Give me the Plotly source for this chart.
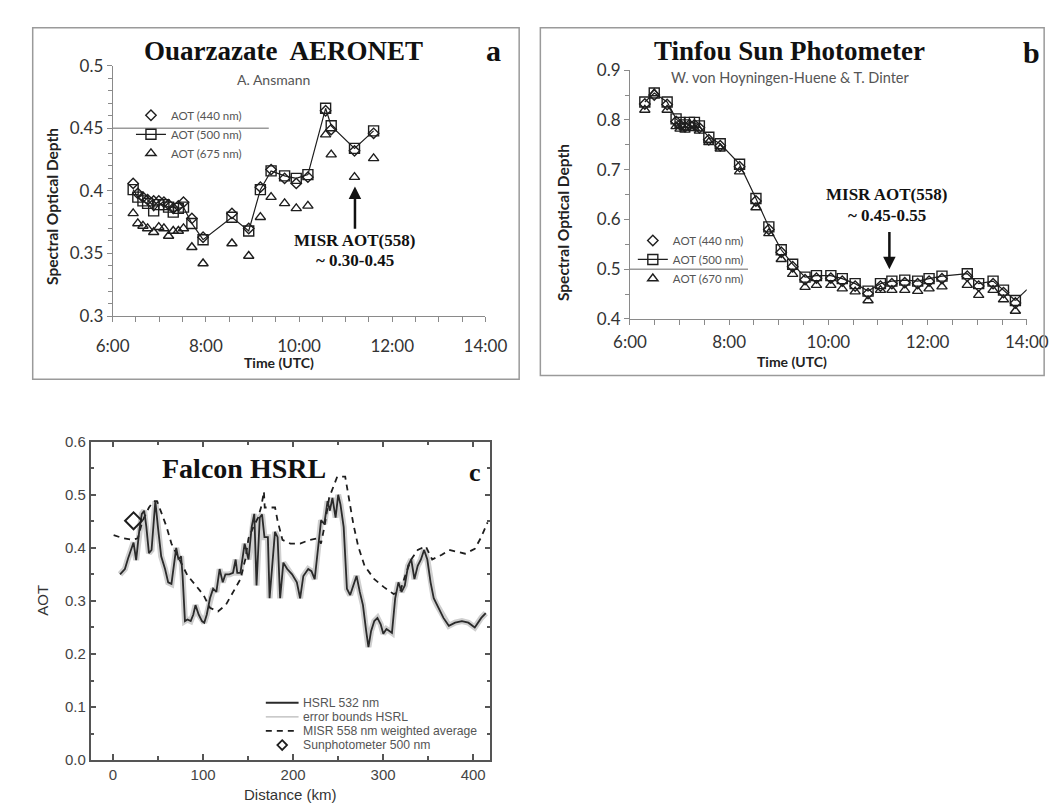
import plotly.graph_objects as go

# ---------------- Panel a : Ouarzazate AERONET ----------------
t_a = [6.44, 6.54, 6.65, 6.75, 6.88, 6.99, 7.10, 7.20, 7.30, 7.41, 7.52, 7.70,
       7.94, 8.56, 8.92, 9.17, 9.40, 9.69, 9.94, 10.19, 10.57, 10.69, 11.19, 11.60]
aot440_a = [0.406, 0.398, 0.395, 0.393, 0.392, 0.392, 0.391, 0.389, 0.386, 0.388, 0.391, 0.378,
            0.363, 0.382, 0.370, 0.403, 0.417, 0.410, 0.406, 0.411, 0.464, 0.449, 0.432, 0.446]
aot500_a = [0.401, 0.395, 0.392, 0.390, 0.384, 0.389, 0.389, 0.387, 0.383, 0.386, 0.387, 0.374,
            0.361, 0.379, 0.368, 0.401, 0.416, 0.412, 0.410, 0.413, 0.466, 0.452, 0.434, 0.448]
aot675_a = [0.382, 0.374, 0.372, 0.370, 0.367, 0.371, 0.370, 0.364, 0.368, 0.368, 0.370, 0.355,
            0.342, 0.358, 0.348, 0.379, 0.395, 0.390, 0.386, 0.388, 0.445, 0.429, 0.411, 0.426]

# ---------------- Panel b : Tinfou Sun Photometer ----------------
t_b = [6.30, 6.49, 6.75, 6.93, 7.01, 7.11, 7.20, 7.30, 7.40, 7.59, 7.82, 8.21, 8.54, 8.80,
       9.05, 9.28, 9.53, 9.76, 10.05, 10.28, 10.54, 10.80, 11.05, 11.28, 11.54, 11.80,
       12.03, 12.29, 12.80, 13.03, 13.32, 13.53, 13.77]
aot440_b = [0.832, 0.850, 0.831, 0.797, 0.790, 0.786, 0.790, 0.790, 0.784, 0.760, 0.748, 0.706,
            0.637, 0.580, 0.534, 0.505, 0.479, 0.482, 0.482, 0.476, 0.466, 0.451, 0.466, 0.471,
            0.473, 0.471, 0.476, 0.481, 0.486, 0.466, 0.471, 0.453, 0.432]
aot500_b = [0.836, 0.854, 0.836, 0.802, 0.795, 0.790, 0.795, 0.795, 0.788, 0.765, 0.752, 0.711,
            0.642, 0.585, 0.539, 0.510, 0.484, 0.487, 0.487, 0.481, 0.471, 0.456, 0.471, 0.476,
            0.478, 0.476, 0.481, 0.486, 0.491, 0.471, 0.476, 0.458, 0.437]
aot670_b = [0.820, 0.853, 0.820, 0.787, 0.782, 0.780, 0.784, 0.783, 0.778, 0.755, 0.742, 0.696,
            0.624, 0.572, 0.520, 0.490, 0.464, 0.468, 0.468, 0.461, 0.455, 0.437, 0.458, 0.458,
            0.458, 0.456, 0.461, 0.465, 0.468, 0.448, 0.458, 0.439, 0.416]
t_b_end = 14.0
aot500_b_end = 0.459

# ---------------- Panel c : Falcon HSRL ----------------
dist_hsrl = [7.8, 13.2, 16.7, 20.3, 22.8, 25.7, 29.2, 32.0, 34.6, 37.0,
             39.9, 42.8, 45.3, 47.0, 49.9, 53.5, 57.8, 61.3, 64.9, 68.4,
             70.2, 72.7, 75.6, 77.3, 79.9, 82.7, 86.3, 89.1, 91.6, 95.2,
             98.8, 101.3, 104.1, 107.7, 111.2, 114.8, 118.4, 121.9, 124.8, 129.1,
             133.3, 136.2, 138.0, 141.5, 146.2, 150.5, 154.0, 156.9, 159.4, 163.0,
             165.5, 168.2, 172.0, 173.9, 177.4, 179.9, 182.8, 185.6, 189.2, 193.5,
             198.9, 204.2, 207.8, 211.4, 216.8, 220.4, 224.0, 227.5, 231.1, 234.7,
             238.3, 240.8, 243.7, 247.2, 250.1, 252.6, 256.2, 259.8, 263.4, 266.9,
             270.5, 274.1, 277.6, 281.2, 283.7, 286.6, 290.2, 293.7, 297.3, 300.2,
             303.7, 307.3, 309.8, 313.4, 317.0, 320.5, 324.1, 327.7, 331.2, 334.8,
             338.4, 342.0, 345.5, 349.1, 352.7, 356.2, 359.8, 363.4, 367.0, 373.0,
             380.0, 387.5, 394.7, 401.8, 409.0, 414.0]
aot_hsrl = [0.350, 0.360, 0.380, 0.400, 0.410, 0.377, 0.433, 0.464, 0.470, 0.440,
            0.390, 0.396, 0.452, 0.488, 0.439, 0.384, 0.360, 0.335, 0.332, 0.378,
            0.400, 0.378, 0.384, 0.347, 0.262, 0.265, 0.262, 0.274, 0.292, 0.274,
            0.262, 0.259, 0.274, 0.305, 0.323, 0.317, 0.360, 0.335, 0.350, 0.350,
            0.353, 0.378, 0.353, 0.353, 0.408, 0.378, 0.439, 0.464, 0.329, 0.457,
            0.463, 0.420, 0.420, 0.305, 0.384, 0.430, 0.420, 0.305, 0.372, 0.360,
            0.350, 0.335, 0.305, 0.347, 0.360, 0.356, 0.341, 0.396, 0.452, 0.445,
            0.488, 0.470, 0.494, 0.457, 0.500, 0.482, 0.439, 0.323, 0.311, 0.329,
            0.347, 0.317, 0.292, 0.243, 0.213, 0.243, 0.262, 0.268, 0.256, 0.238,
            0.247, 0.243, 0.240, 0.305, 0.335, 0.317, 0.329, 0.366, 0.378, 0.341,
            0.366, 0.378, 0.396, 0.378, 0.335, 0.305, 0.292, 0.280, 0.268, 0.253,
            0.259, 0.262, 0.259, 0.250, 0.268, 0.277]
dist_misr = [0.7, 11.4, 22.1, 27.5, 32.8, 39.9, 45.3, 48.9, 54.2, 59.6, 64.9, 72.0, 82.7,
             93.4, 100.5, 107.7, 116.6, 125.5, 134.4, 141.5, 146.9, 150.5, 155.8, 161.1,
             164.7, 167.6, 168.5, 180.0, 182.8, 188.2, 197.0, 207.8, 218.5, 227.5, 231.0,
             234.7, 240.0, 245.4, 249.0, 257.9, 261.5, 266.9, 272.3, 279.4, 290.2, 300.9,
             311.6, 318.7, 325.8, 331.2, 338.4, 347.3, 354.5, 365.2, 373.3, 391.0, 401.8,
             408.9, 416.0]
aot_misr = [0.424, 0.418, 0.415, 0.418, 0.451, 0.476, 0.488, 0.488, 0.464, 0.439, 0.408, 0.384,
            0.348, 0.326, 0.311, 0.287, 0.280, 0.293, 0.320, 0.341, 0.378, 0.418, 0.439, 0.457,
            0.478, 0.506, 0.476, 0.476, 0.451, 0.415, 0.408, 0.408, 0.415, 0.418, 0.408, 0.439,
            0.494, 0.519, 0.534, 0.534, 0.500, 0.445, 0.403, 0.366, 0.341, 0.326, 0.313, 0.317,
            0.354, 0.378, 0.396, 0.403, 0.378, 0.387, 0.396, 0.389, 0.398, 0.420, 0.448]
dist_sunphot = [22.8]
aot_sunphot = [0.451]

time_tickvals = [6, 8, 10, 12, 14]
time_ticktext = ["6:00", "8:00", "10:00", "12:00", "14:00"]
legend_c_labels = ["HSRL 532 nm", "error bounds HSRL",
                   "MISR 558 nm weighted average", "Sunphotometer 500 nm"]

W, H = 1062, 805


def px(x):
    return x / W


def py(y):
    return 1 - y / H


INK = "#1e1e1e"
SANS = "Lato"
SERIF = "Liberation Serif"
ARIAL = "Liberation Sans"

fig = go.Figure()

# ---- panel a traces
fig.add_trace(go.Scatter(x=t_a, y=aot440_a, mode="markers", name="AOT (440 nm)",
                         marker=dict(symbol="diamond-open", size=8, color=INK, line=dict(width=1.4, color=INK)),
                         xaxis="x", yaxis="y", legend="legend"))
fig.add_trace(go.Scatter(x=t_a, y=aot500_a, mode="lines+markers", name="AOT (500 nm)",
                         line=dict(color=INK, width=1.2),
                         marker=dict(symbol="square-open", size=10, color=INK, line=dict(width=1.4, color=INK)),
                         xaxis="x", yaxis="y", legend="legend"))
fig.add_trace(go.Scatter(x=t_a, y=aot675_a, mode="markers", name="AOT (675 nm)",
                         marker=dict(symbol="triangle-up-open", size=9, color=INK, line=dict(width=1.4, color=INK)),
                         xaxis="x", yaxis="y", legend="legend"))

# ---- panel b traces
fig.add_trace(go.Scatter(x=t_b, y=aot440_b, mode="markers", name="AOT (440 nm)",
                         marker=dict(symbol="diamond-open", size=8, color=INK, line=dict(width=1.4, color=INK)),
                         xaxis="x2", yaxis="y2", legend="legend2"))
fig.add_trace(go.Scatter(x=t_b, y=aot500_b, mode="lines+markers", name="AOT (500 nm)",
                         line=dict(color=INK, width=1.2),
                         marker=dict(symbol="square-open", size=10, color=INK, line=dict(width=1.4, color=INK)),
                         xaxis="x2", yaxis="y2", legend="legend2"))
fig.add_trace(go.Scatter(x=[t_b[-1], t_b_end], y=[aot500_b[-1], aot500_b_end], mode="lines",
                         line=dict(color=INK, width=1.2), showlegend=False, hoverinfo="skip",
                         xaxis="x2", yaxis="y2"))
fig.add_trace(go.Scatter(x=t_b, y=aot670_b, mode="markers", name="AOT (670 nm)",
                         marker=dict(symbol="triangle-up-open", size=9, color=INK, line=dict(width=1.4, color=INK)),
                         xaxis="x2", yaxis="y2", legend="legend2"))

# ---- panel c traces
fig.add_trace(go.Scatter(x=dist_hsrl, y=aot_hsrl, mode="lines", line=dict(color="#cfcfcf", width=6),
                         showlegend=False, xaxis="x3", yaxis="y3", hoverinfo="skip"))
fig.add_trace(go.Scatter(x=dist_misr, y=aot_misr, mode="lines",
                         line=dict(color=INK, width=1.8, dash="6px,5px"),
                         showlegend=False, xaxis="x3", yaxis="y3"))
fig.add_trace(go.Scatter(x=dist_hsrl, y=aot_hsrl, mode="lines", line=dict(color="#2a2a2a", width=1.8),
                         showlegend=False, xaxis="x3", yaxis="y3"))
fig.add_trace(go.Scatter(x=dist_sunphot, y=aot_sunphot, mode="markers",
                         marker=dict(symbol="diamond-open", size=13, color=INK, line=dict(width=2, color=INK)),
                         showlegend=False, xaxis="x3", yaxis="y3"))

# ---- axes
tick_ab = dict(family=SANS, size=17, color="#333")
common_ab = dict(showline=True, linecolor="#8a8a8a", linewidth=1, ticks="outside", ticklen=5,
                 tickcolor="#8a8a8a", showgrid=False, zeroline=False, tickfont=tick_ab)

fig.update_layout(
    xaxis=dict(domain=[px(91), px(478)], range=[6, 14], tickvals=time_tickvals, ticktext=time_ticktext,
               anchor="y", ticklabelstandoff=10,
               minor=dict(tick0=6, dtick=0.5, ticks="outside", ticklen=5, tickcolor="#8a8a8a"),
               **common_ab),
    yaxis=dict(domain=[py(305), py(48)], range=[0.3, 0.5], tick0=0.3, dtick=0.05, anchor="x",
               minor=dict(tick0=0.3, dtick=0.01, ticks="outside", ticklen=4, tickcolor="#8a8a8a"),
               **common_ab),
    xaxis2=dict(domain=[px(628), px(1040)], range=[6, 14], tickvals=time_tickvals, ticktext=time_ticktext,
                anchor="y2", ticklabelstandoff=3,
                minor=dict(tick0=6, dtick=0.5, ticks="outside", ticklen=5, tickcolor="#8a8a8a"),
                **common_ab),
    yaxis2=dict(domain=[py(308), py(52.5)], range=[0.4, 0.9], tick0=0.4, dtick=0.1, anchor="x2",
                minor=dict(tick0=0.4, dtick=0.05, ticks="outside", ticklen=4, tickcolor="#8a8a8a"),
                **common_ab),
    xaxis3=dict(domain=[px(68), px(483)], range=[-25, 419], tick0=0, dtick=100, anchor="y3",
                showline=True, mirror="ticks", linecolor="#555", linewidth=1.5, ticks="inside", ticklen=6,
                tickcolor="#555", tickwidth=1.5, showgrid=False, zeroline=False,
                tickfont=dict(family=ARIAL, size=15, color="#444"),
                minor=dict(tick0=0, dtick=50, ticks="inside", ticklen=4, tickcolor="#555")),
    yaxis3=dict(domain=[py(761), py(434)], range=[0, 0.6], tick0=0, dtick=0.1, tickformat=".1f", anchor="x3",
                showline=True, mirror="ticks", linecolor="#555", linewidth=1.5, ticks="inside", ticklen=6,
                tickcolor="#555", tickwidth=1.5, showgrid=False, zeroline=False,
                tickfont=dict(family=ARIAL, size=15, color="#444"),
                minor=dict(tick0=0, dtick=0.05, ticks="inside", ticklen=4, tickcolor="#555")),
)

leg_font = dict(family=SANS, size=11.5, color="#555")
fig.update_layout(
    legend=dict(x=px(110), y=py(84), xanchor="left", yanchor="top", bgcolor="rgba(0,0,0,0)",
                font=leg_font, borderwidth=0, tracegroupgap=0),
    legend2=dict(x=px(631), y=py(212.5), xanchor="left", yanchor="top", bgcolor="rgba(0,0,0,0)",
                 font=leg_font, borderwidth=0, tracegroupgap=0),
)

shapes = [
    dict(type="rect", xref="paper", yref="paper", x0=px(8), x1=px(513), y0=py(370), y1=py(9),
         line=dict(color="#9a9a9a", width=1.5)),
    dict(type="rect", xref="paper", yref="paper", x0=px(535), x1=px(1058), y0=py(366), y1=py(9),
         line=dict(color="#9a9a9a", width=1.5)),
    dict(type="line", xref="x", yref="y", x0=6, x1=9.35, y0=0.45, y1=0.45,
         line=dict(color="#9a9a9a", width=1.5)),
    dict(type="line", xref="x2", yref="y2", x0=6, x1=8.38, y0=0.5, y1=0.5,
         line=dict(color="#9a9a9a", width=1.5)),
]

# manual legend for panel c
leg_rows = [702, 716.5, 731, 745.5]
lx0, lx1, ltext = 250, 284, 287
shapes.append(dict(type="line", xref="paper", yref="paper", x0=px(lx0), x1=px(lx1),
                   y0=py(leg_rows[0]), y1=py(leg_rows[0]), line=dict(color="#2a2a2a", width=2)))
shapes.append(dict(type="line", xref="paper", yref="paper", x0=px(lx0), x1=px(lx1),
                   y0=py(leg_rows[1]), y1=py(leg_rows[1]), line=dict(color="#b8b8b8", width=1.2)))
shapes.append(dict(type="line", xref="paper", yref="paper", x0=px(lx0), x1=px(lx1),
                   y0=py(leg_rows[2]), y1=py(leg_rows[2]), line=dict(color=INK, width=1.8, dash="6px,5px")))
cx, cy, r = (lx0 + lx1) / 2, leg_rows[3], 5
shapes.append(dict(type="path", xref="paper", yref="paper",
                   path=f"M {px(cx)},{py(cy - r)} L {px(cx + r)},{py(cy)} L {px(cx)},{py(cy + r)} L {px(cx - r)},{py(cy)} Z",
                   line=dict(color=INK, width=1.8)))

annotations = []


def ann(text, x, y, size, family=SANS, color="#111", xanchor="center", yanchor="middle", angle=0, **kw):
    annotations.append(dict(text=text, x=x, y=y, xref=kw.pop("xref", "paper"), yref=kw.pop("yref", "paper"),
                            showarrow=False, xanchor=xanchor, yanchor=yanchor, textangle=angle,
                            font=dict(family=family, size=size, color=color), **kw))


for i, lab in enumerate(legend_c_labels):
    ann(lab, px(ltext), py(leg_rows[i]), 12.2, family=ARIAL, color="#555", xanchor="left")

# panel a texts
ann("<b>Ouarzazate  AERONET</b>", px(268), py(33), 27, family=SERIF)
ann("A. Ansmann", px(258), py(62), 14, color="#555")
ann("<b>a</b>", px(486), py(32), 30, family=SERIF)
ann("<b>Spectral Optical Depth</b>", px(28), py(192), 15.5, color="#222", angle=-90)
ann("<b>Time (UTC)</b>", px(264), py(353), 14, color="#222")
ann("<b>MISR AOT(558)</b>", 11.2, 0.3607, 17, family=SERIF, xref="x", yref="y")
ann("<b>~ 0.30-0.45</b>", 11.2, 0.3444, 17, family=SERIF, xref="x", yref="y")

# panel b texts
ann("<b>Tinfou Sun Photometer</b>", px(794), py(33), 27, family=SERIF)
ann("W. von Hoyningen-Huene &amp; T. Dinter", px(794), py(60), 14.5, color="#555")
ann("<b>b</b>", px(1045), py(34), 30, family=SERIF)
ann("<b>Spectral Optical Depth</b>", px(558), py(209), 15.5, color="#222", angle=-90)
ann("<b>Time (UTC)</b>", px(796), py(352), 14, color="#222")
ann("<b>MISR AOT(558)</b>", 11.18, 0.650, 17, family=SERIF, xref="x2", yref="y2")
ann("<b>~ 0.45-0.55</b>", 11.18, 0.607, 17, family=SERIF, xref="x2", yref="y2")

# panel c texts
ann("<b>Falcon HSRL</b>", px(227), py(462), 28, family=SERIF)
ann("<b>c</b>", px(467), py(466), 26, family=SERIF)
ann("AOT", px(18), py(597), 15, family=ARIAL, color="#333", angle=-90)
ann("Distance (km)", px(276), py(796), 15, family=ARIAL, color="#333")

# arrows
annotations.append(dict(x=11.2, y=0.4035, ax=11.2, ay=0.3685, xref="x", yref="y", axref="x", ayref="y",
                        text="", showarrow=True, arrowhead=2, arrowsize=1, arrowwidth=2.5, arrowcolor="#111"))
annotations.append(dict(x=11.23, y=0.4998, ax=11.23, ay=0.578, xref="x2", yref="y2", axref="x2", ayref="y2",
                        text="", showarrow=True, arrowhead=2, arrowsize=1, arrowwidth=2.5, arrowcolor="#111"))

fig.update_layout(
    width=W, height=H, autosize=False,
    margin=dict(l=0, r=0, t=0, b=0),
    paper_bgcolor="white", plot_bgcolor="white",
    shapes=shapes, annotations=annotations,
)

fig.write_html("out.html")
